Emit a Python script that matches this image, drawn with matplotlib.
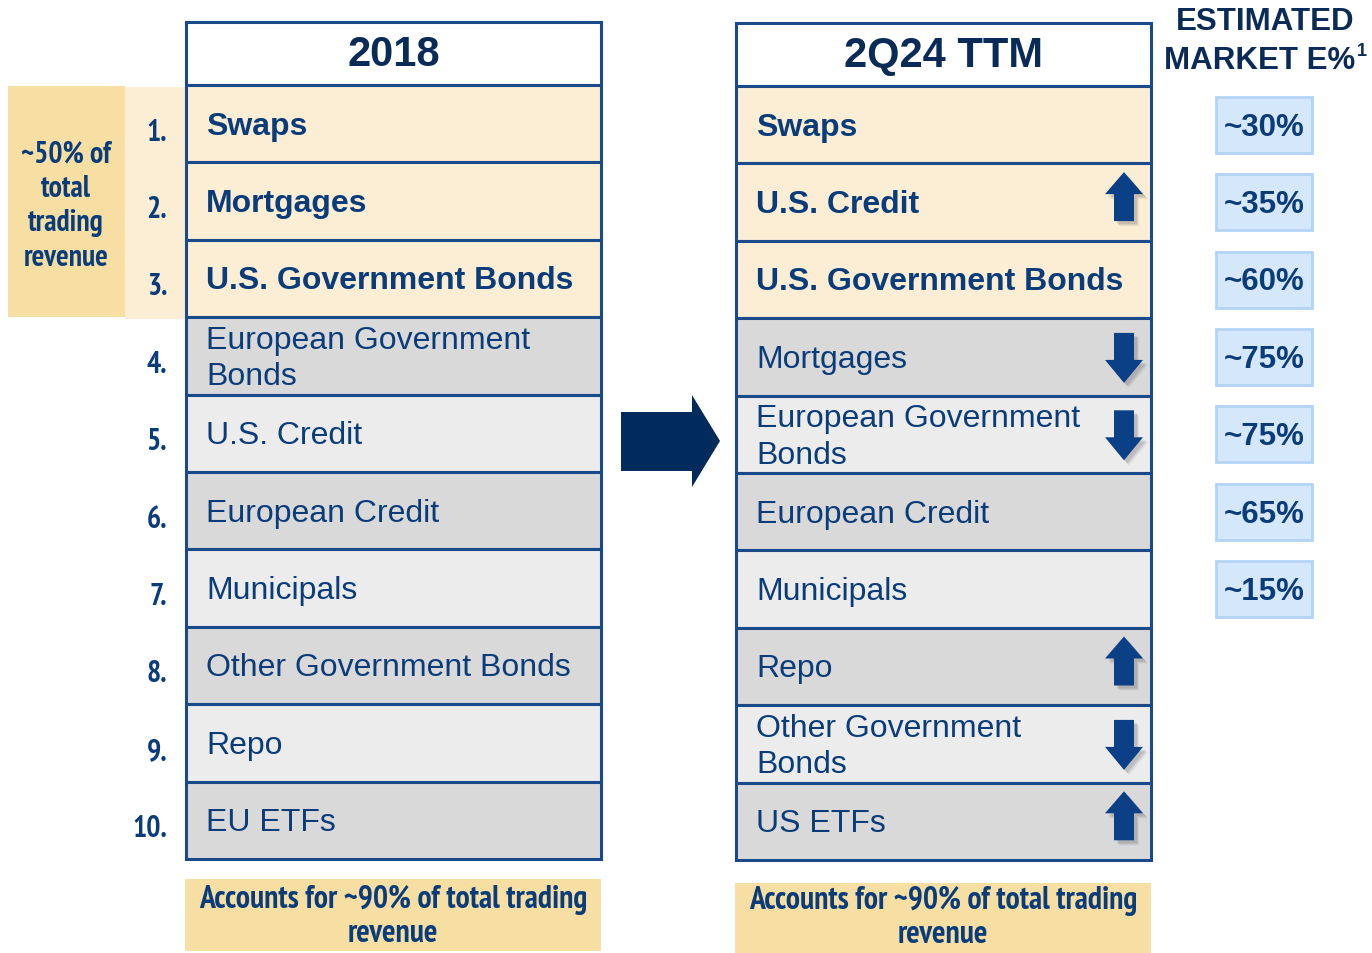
import matplotlib
matplotlib.use('Agg')
import matplotlib.pyplot as plt
from matplotlib import font_manager
from matplotlib.font_manager import FontProperties
from matplotlib.patches import Rectangle, Polygon

# ranking data
rank_2018 = ['Swaps', 'Mortgages', 'U.S. Government Bonds', 'European Government\nBonds',
             'U.S. Credit', 'European Credit', 'Municipals', 'Other Government Bonds',
             'Repo', 'EU ETFs']
rank_2q24 = ['Swaps', 'U.S. Credit', 'U.S. Government Bonds', 'Mortgages',
             'European Government\nBonds', 'European Credit', 'Municipals', 'Repo',
             'Other Government\nBonds', 'US ETFs']
moves_2q24 = [0, 1, 0, -1, -1, 0, 0, 1, -1, 1]   # 1 = up, -1 = down
market_share = ['~30%', '~35%', '~60%', '~75%', '~75%', '~65%', '~15%']
rank_labels = ['1.', '2.', '3.', '4.', '5.', '6.', '7.', '8.', '9.', '10.']
n_top = 3

NAVY = '#0b3c7a'
DARK = '#0a2b57'
LINE = '#1b4a8a'
CREAM = '#fbeed5'
GOLD = '#f7dfa3'
GRAY = '#d9d9d9'
LIGHT = '#ececec'
SANS = ['Liberation Sans', 'DejaVu Sans']


def wnum(w):
    if isinstance(w, (int, float)):
        return w
    return font_manager.weight_dict.get(w, 400)


# look for a bold narrow / condensed face (something like Arial Narrow Bold)
cands = []
for f in font_manager.fontManager.ttflist:
    nm = (f.name + ' ' + f.fname).lower()
    if f.style != 'normal' or 'dejavu' in nm:
        continue
    if 'narrow' in nm or 'condensed' in nm or 'cond' in nm:
        score = abs(wnum(f.weight) - 700) + (0 if 'narrow' in nm else 5)
        cands.append((score, f.fname))
cands.sort()
narrow_file = cands[0][1] if cands else None


def nprops(size):
    if narrow_file:
        return FontProperties(fname=narrow_file, size=size)
    return FontProperties(family=SANS, weight='bold', size=size * 0.86)


fig = plt.figure(figsize=(13.72, 9.54), dpi=100)
ax = fig.add_axes([0, 0, 1, 1])
ax.set_xlim(0, 1372)
ax.set_ylim(954, 0)
ax.axis('off')
renderer = fig.canvas.get_renderer()

row_h = 77.4


def fit_size(sample, width_px, size0=20):
    # font size giving the sample string the wanted pixel width
    t = ax.text(0, 0, sample, fontproperties=nprops(size0))
    w = t.get_window_extent(renderer).width
    t.remove()
    return size0 * width_px / w


def ntext(x, y, s, size, **kw):
    return ax.text(x, y, s, fontproperties=nprops(size), color=NAVY, zorder=3, **kw)


def draw_small_arrow(cx, cy, d):
    if d > 0:
        pts = [(cx, cy - 30), (cx + 19, cy - 8), (cx + 10, cy - 8), (cx + 10, cy + 19),
               (cx - 10, cy + 19), (cx - 10, cy - 8), (cx - 19, cy - 8)]
    else:
        pts = [(cx, cy + 26), (cx + 19, cy + 3), (cx + 10, cy + 3), (cx + 10, cy - 24),
               (cx - 10, cy - 24), (cx - 10, cy + 3), (cx - 19, cy + 3)]
    for k, a in [(5, 0.08), (4, 0.10), (3, 0.13)]:
        ax.add_patch(Polygon([(px + k, py + k) for px, py in pts], closed=True,
                             fc='#444444', ec='none', alpha=a, zorder=3))
    ax.add_patch(Polygon(pts, closed=True, fc='#0b3f86', ec='none', zorder=4))


def draw_table(x0, y0, title, items, moves=None):
    w = 415
    hdr = 63
    ax.add_patch(Rectangle((x0, y0), w, hdr, fc='white', ec=LINE, lw=2.2, zorder=2))
    ax.text(x0 + w / 2, y0 + hdr / 2 + 1, title, ha='center', va='center', fontsize=30,
            fontweight='bold', color=DARK, family=SANS, zorder=3)
    centers = []
    for i, name in enumerate(items):
        top = y0 + hdr + i * row_h
        if i < n_top:
            fc = CREAM
        elif (i - n_top) % 2 == 0:
            fc = GRAY
        else:
            fc = LIGHT
        ax.add_patch(Rectangle((x0, top), w, row_h, fc=fc, ec=LINE, lw=2.2, zorder=2))
        cy = top + row_h / 2
        centers.append(cy)
        ax.text(x0 + 20, cy + 2, name, ha='left', va='center', fontsize=23,
                fontweight='bold' if i < n_top else 'normal', color=NAVY,
                family=SANS, linespacing=1.28, zorder=3)
        if moves is not None and moves[i] != 0:
            draw_small_arrow(x0 + 388, cy, moves[i])
    return centers


# left side: gold note and cream band behind top ranks
ax.add_patch(Rectangle((8, 87), 117, 231, fc=GOLD, ec='none', zorder=1))
ax.add_patch(Rectangle((125, 88), 61, 232, fc=CREAM, ec='none', zorder=1))
ntext(66, 206, '~50% of\ntotal\ntrading\nrevenue', fit_size('~50% of', 90), ha='center',
      va='center', linespacing=1.3)

left_c = draw_table(186, 23, '2018', rank_2018)
right_c = draw_table(736, 24, '2Q24 TTM', rank_2q24, moves_2q24)

num_size = fit_size('10.', 35)
for lab, cy in zip(rank_labels, left_c):
    ntext(167, cy + 8, lab, num_size, ha='right', va='center')

# big arrow between tables
ax.add_patch(Polygon([(621, 413), (692, 413), (692, 396), (720, 442), (692, 488),
                      (692, 472), (621, 472)], closed=True, fc='#002b5c', ec='none', zorder=3))

# estimated market share column
ax.text(1265, 22, 'ESTIMATED', ha='center', va='center', fontsize=22.5, fontweight='bold',
        color=DARK, family=SANS)
ax.text(1260, 61, 'MARKET E%', ha='center', va='center', fontsize=22.5, fontweight='bold',
        color=DARK, family=SANS)
ax.text(1357, 52, '1', ha='left', va='center', fontsize=13, fontweight='bold',
        color=DARK, family=SANS)
for val, cy in zip(market_share, right_c):
    ax.add_patch(Rectangle((1216, cy - 28), 96, 56, fc='#d5e7fb', ec='#b3d4f5', lw=2, zorder=2))
    ax.text(1264, cy + 2, val, ha='center', va='center', fontsize=22.5, fontweight='bold',
            color=NAVY, family=SANS, zorder=3)

# bottom notes
note_size = fit_size('Accounts for ~90% of total trading', 390)
for x0, y0, ty in [(185, 880, 917), (735, 884, 918)]:
    ax.add_patch(Rectangle((x0, y0), 416, 72, fc=GOLD, ec='none', zorder=1))
    ntext(x0 + 208, ty, 'Accounts for ~90% of total trading\nrevenue', note_size,
          ha='center', va='center', linespacing=1.2)

fig.savefig('out.png', dpi=100)
